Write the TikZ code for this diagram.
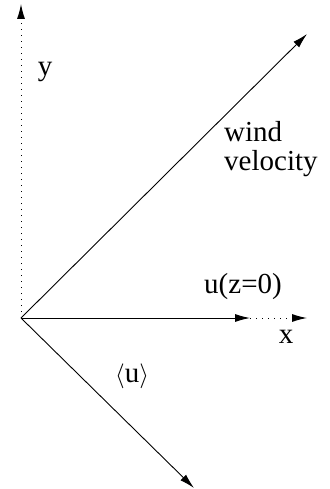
\documentclass[tikz,border=0pt]{standalone}
\usepackage{fontspec}
\setmainfont{Liberation Serif}
\usepackage{tikz}
\usetikzlibrary{arrows.meta}
\usetikzlibrary{positioning}

\tikzset{
	vec/.style={line width=0.9pt, -{Latex[length=15pt, width=8pt]}},
	axis/.style={line width=1pt, dash pattern=on 1pt off 5pt, -{Latex[length=15pt, width=8pt]}},
	lbl/.style={font=\fontsize{29}{33}\selectfont, inner sep=0pt}
}

\begin{document}
\begin{tikzpicture}[x=1pt, y=-1pt]
		\useasboundingbox (0,0) rectangle (329,489);
		% Origin and arrow tips
		\coordinate (origin) at (21,318);
		\coordinate (ytip) at (21,4);
		\coordinate (wtip) at (307,34);
		\coordinate (utip) at (250,318);
		\coordinate (xtip) at (307,318);
		\coordinate (mtip) at (194,488);

		% Axes (dotted)
		\draw[axis] (origin) -- (ytip);
		\draw[axis] (utip) -- (xtip);

		% Velocity vectors
		\draw[vec] (origin) -- (wtip);
		\draw[vec] (origin) -- (utip);
		\draw[vec] (origin) -- (mtip);

		% Labels
		\node[lbl] (ylabel) at (45,72) {y};
		\node[lbl, anchor=base west] (wind) at (224,142) {wind};
		\node[lbl, anchor=base west] (velocity) at (224,171) {velocity};
		\node[lbl] (ulabel) at (243,287) {u(z=0)};
		\node[lbl] (xlabel) at (286,337) {x};
		\node[lbl] (mlabel) at (132,376) {$\langle$u$\rangle$};
	\end{tikzpicture}
\end{document}
